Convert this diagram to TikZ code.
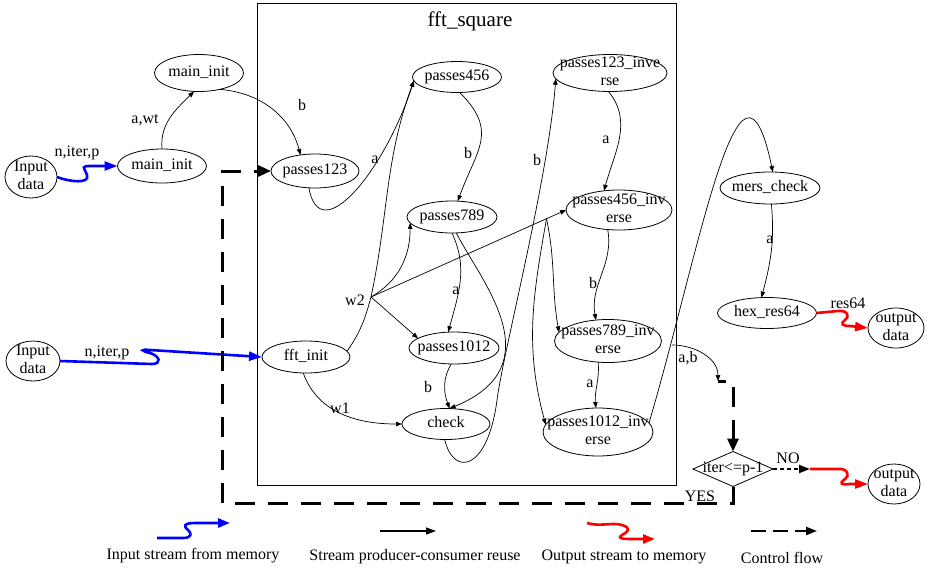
\documentclass[tikz,border=0pt]{standalone}
\usepackage{fontspec}
\setmainfont{Liberation Serif}
\usepackage{tikz}
\usetikzlibrary{arrows.meta,shapes.geometric,calc}

% text set inside a fixed-size shape (does not grow the shape)
\newcommand{\ntxt}[1]{\makebox[0pt]{\raisebox{-.28em}[0pt][0pt]{\begin{tabular}{@{}c@{}}#1\end{tabular}}}}

\begin{document}
\begin{tikzpicture}[x=1pt,y=1pt,font=\fontsize{16}{18}\selectfont,
  every node/.style={inner sep=0pt,outer sep=0pt},
  task/.style n args={2}{draw,ellipse,line width=.8pt,minimum width=#1pt,minimum height=#2pt},
  lbl/.style={},
  flow/.style={line width=.7pt,-{Triangle[length=6pt,width=4.5pt]}},
  instream/.style={draw=blue,line width=2.6pt,-{Triangle[length=13pt,width=9pt]}},
  outstream/.style={draw=red,line width=2.6pt,-{Triangle[length=13pt,width=9pt]}},
  ctrl/.style={line width=3pt,dash pattern=on 20pt off 13pt,-{Triangle[length=13pt,width=11pt]}},
  ctrlno/.style={line width=2pt,dash pattern=on 4pt off 3pt,-{Triangle[length=11pt,width=8pt]}}]
\useasboundingbox (0,0) rectangle (927,-570);

% cluster
\draw[line width=.8pt] (257,-3) rectangle (676,-485);
\node[font=\fontsize{21}{24}\selectfont] (ttl) at (470,-21) {fft\_square};

% data sources / sinks
\node[task={52}{42}] (in1) at (31,-177) {\ntxt{Input\\data}};
\node[task={54}{40}] (in2) at (33,-361) {\ntxt{Input\\data}};
\node[task={56}{40}] (out1) at (896,-328) {\ntxt{output\\data}};
\node[task={52}{40}] (out2) at (894,-484) {\ntxt{output\\data}};

% kernels
\node[task={89}{34}] (mlow) at (162,-166) {\ntxt{main\_init}};
\node[task={89}{37}] (mup) at (199,-73) {\ntxt{main\_init}};
\node[task={88}{34}] (p123) at (315,-171) {\ntxt{passes123}};
\node[task={89}{31}] (p456) at (457,-77) {\ntxt{passes456}};
\node[task={90}{32}] (p789) at (452,-217) {\ntxt{passes789}};
\node[task={88}{32}] (fft) at (306,-357) {\ntxt{fft\_init}};
\node[task={90}{32}] (p1012) at (454,-348) {\ntxt{passes1012}};
\node[task={88}{31}] (check) at (446,-424) {\ntxt{check}};
\node[task={114}{37}] (p123i) at (610,-73) {\ntxt{passes123\_inve\\rse}};
\node[task={106}{40}] (p456i) at (619,-210) {\ntxt{passes456\_inv\\erse}};
\node[task={107}{43}] (p789i) at (608,-341) {\ntxt{passes789\_inv\\erse}};
\node[task={110}{48}] (p1012i) at (598,-432) {\ntxt{passes1012\_inv\\erse}};
\node[task={100}{32}] (mers) at (770,-188) {\ntxt{mers\_check}};
\node[task={99}{31}] (hex) at (767,-313) {\ntxt{hex\_res64}};
\node[draw,diamond,line width=.8pt,minimum width=80pt,minimum height=35pt] (cond) at (733,-469) {};
\node[lbl] (condtxt) at (cond) {iter<=p-1};

% branch points and free ends
\coordinate (w2) at (371,-297);
\coordinate (w2b) at ($(w2)!0.9!(p456i.west)$);
\coordinate (abfrom) at (672,-345);
\coordinate (abto) at (718,-381);
\coordinate (no) at (810,-469);
\coordinate (yes) at (222,-503);

% input streams
\draw[instream] (in1.east) .. controls (70,-182) and (90,-184) .. (87,-175)
  .. controls (84,-167) and (80,-166) .. (92,-166) -- (mlow.west);
\draw[instream] (in2.east) -- (152,-364) .. controls (162,-364) and (160,-356) .. (150,-353)
  .. controls (141,-351) and (140,-349) .. (150,-350) -- (fft.west);

% producer-consumer edges
\draw[flow] (mlow.north) to[out=95,in=-135] (mup.-105);
\draw[flow] (mup.-38) to[out=-5,in=105] (p123.132);
\draw[flow] (p123.-110) .. controls (320,-250) and (385,-170) .. (p456.185);
\draw[flow,-] (fft.8) to[out=55,in=-105] (w2);
\draw[flow] (w2) to[out=78,in=-110] (p456.185);
\draw[flow] (w2) to[out=30,in=-90] (p789.188);
\draw[flow] (w2) -- (p1012.165);
\draw[flow] (w2) -- (p456i.west);
\draw[flow] (w2b) to[out=-78,in=100] (p789i.170);
\draw[flow] (w2b) to[out=-100,in=105] (p1012i.172);
\draw[flow] (p456.-80) to[out=-45,in=70,looseness=1.3] (p789.70);
\draw[flow] (p789.-90) to[out=-65,in=75] (p1012.110);
\draw[flow] (p789.-75) .. controls (480,-280) and (555,-365) .. (check.77);
\draw[flow] (p1012.-100) to[out=-120,in=110] (check.77);
\draw[flow] (fft.-100) to[out=-70,in=180] (check.west);
\draw[flow] (check.-95) .. controls (454,-478) and (488,-470) .. (497,-400)
  .. controls (503,-353) and (548,-180) .. (p123i.186);
\draw[flow] (p123i.-95) to[out=-50,in=75] (p456i.128);
\draw[flow] (p456i.-120) to[out=-80,in=100] (p789i.120);
\draw[flow] (p789i.-115) to[out=-85,in=95] (p1012i.95);
\draw[flow] (p1012i.10) .. controls (700,-250) and (740,-15) .. (mers.80);
\draw[flow] (mers.-85) to[out=-85,in=75] (hex.110);
\draw[flow] (abfrom) to[out=0,in=90] (abto);

% output streams
\draw[outstream] (hex.east) -- (838,-311) .. controls (848,-310) and (850,-317) .. (845,-320)
  .. controls (840,-324) and (842,-326) .. (850,-326) -- (out1.west);
\draw[outstream] (no) -- (838,-469) .. controls (848,-468) and (850,-476) .. (845,-479)
  .. controls (838,-484) and (842,-485) .. (850,-484) -- (out2.west);

% control flow
\draw[ctrl,dash phase=12pt] (abto) -| (cond.north);
\draw[ctrlno] (cond.east) -- (no);
\draw[ctrl] (cond.south) |- (yes) |- (p123.west);

% edge labels
\node[lbl] (l-awt) at (145,-120) {a,wt};
\node[lbl] (l-in1) at (77,-153) {n,iter,p};
\node[lbl] (l-in2) at (107,-353) {n,iter,p};
\node[lbl] (l-b1) at (302,-105) {b};
\node[lbl] (l-a1) at (375,-160) {a};
\node[lbl] (l-b2) at (468,-153) {b};
\node[lbl] (l-w2) at (355,-300) {w2};
\node[lbl] (l-a2) at (456,-291) {a};
\node[lbl] (l-b3) at (428,-387) {b};
\node[lbl] (l-w1) at (340,-408) {w1};
\node[lbl] (l-b4) at (537,-160) {b};
\node[lbl] (l-a3) at (606,-140) {a};
\node[lbl] (l-b5) at (593,-283) {b};
\node[lbl] (l-a4) at (590,-384) {a};
\node[lbl] (l-ab) at (688,-358) {a,b};
\node[lbl] (l-a5) at (770,-240) {a};
\node[lbl] (l-res) at (848,-303) {res64};
\node[lbl] (l-no) at (788,-458) {NO};
\node[lbl] (l-yes) at (700,-496) {YES};

% legend
\draw[draw=blue,line width=2.6pt,-{Triangle[length=12pt,width=9pt]}]
  (157,-538) -- (183,-538) .. controls (192,-538) and (192,-533) .. (188,-530)
  .. controls (183,-526) and (184,-523) .. (195,-523) -- (230,-523);
\draw[line width=1.2pt,-{Triangle[length=10pt,width=7pt]}] (380,-531) -- (436,-531);
\draw[draw=red,line width=2.6pt,-{Triangle[length=12pt,width=9pt]}]
  (587,-523) .. controls (600,-527) and (612,-522) .. (622,-525)
  .. controls (632,-528) and (628,-532) .. (622,-535)
  .. controls (616,-539) and (625,-539) .. (632,-539) -- (655,-539);
\draw[line width=2pt,dash pattern=on 15pt off 7pt,-{Triangle[length=11pt,width=8pt]}]
  (751,-531) -- (817,-531);
\node (k-in) at (193,-556) {Input stream from memory};
\node (k-flow) at (415,-557) {Stream producer-consumer reuse};
\node (k-out) at (624,-557) {Output stream to memory};
\node (k-ctrl) at (782,-558) {Control flow};
\end{tikzpicture}
\end{document}
